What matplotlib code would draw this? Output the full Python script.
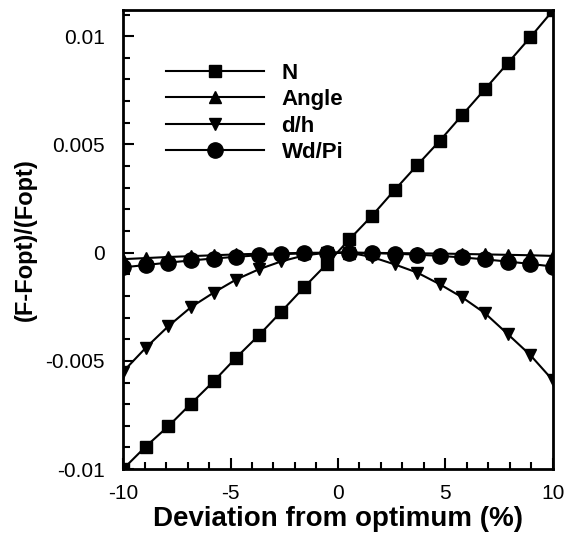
import matplotlib
matplotlib.use("Agg")
import matplotlib.pyplot as plt
import numpy as np

plt.rcParams['font.family'] = ['Liberation Sans', 'DejaVu Sans']

# deviation from optimum (%), 20 evaluated points
dev = np.linspace(-10, 10, 20)

n_vals = [-0.0100, -0.00896, -0.00802, -0.00698, -0.00595, -0.00485, -0.00382,
          -0.00272, -0.00160, -0.00053, 0.00061, 0.00170, 0.00289, 0.00404,
          0.00517, 0.00637, 0.00756, 0.00875, 0.00995, 0.01119]
angle_vals = [-0.00030, -0.00025, -0.00020, -0.00016, -0.00012, -0.00008, -0.00005,
              -0.00003, -0.00001, 0.0, 0.0, -0.00001, -0.00002, -0.00003,
              -0.00004, -0.00006, -0.00008, -0.00010, -0.00012, -0.00015]
dh_vals = [-0.00550, -0.00440, -0.00340, -0.00252, -0.00185, -0.00124, -0.00077,
           -0.00040, -0.00013, 0.0, 0.0, -0.00020, -0.00054, -0.00092,
           -0.00146, -0.00207, -0.00280, -0.00376, -0.00473, -0.00590]
wdpi_vals = [-0.00068, -0.00057, -0.00046, -0.00036, -0.00027, -0.00019, -0.00012,
             -0.00007, -0.00003, -0.00001, 0.0, -0.00002, -0.00005, -0.00009,
             -0.00015, -0.00022, -0.00031, -0.00041, -0.00052, -0.00064]

fig = plt.figure(figsize=(5.73, 5.38), dpi=100)
ax = fig.add_axes([0.2147, 0.128, 0.7503, 0.853])

lw = 1.5
ax.plot(dev, n_vals, color='black', lw=lw, marker='s', ms=8, label='N')
ax.plot(dev, angle_vals, color='black', lw=lw, marker='^', ms=9, label='Angle')
ax.plot(dev, dh_vals, color='black', lw=lw, marker='v', ms=9, label='d/h')
ax.plot(dev, wdpi_vals, color='black', lw=lw, marker='o', ms=11, label='Wd/Pi')

ax.set_xlim(-10, 10)
ax.set_ylim(-0.01, 0.0112)
ax.set_xticks([-10, -5, 0, 5, 10])
ax.set_xticklabels(['-10', '-5', '0', '5', '10'])
ax.set_xticks(np.arange(-10, 11, 1), minor=True)
ax.set_yticks([-0.01, -0.005, 0, 0.005, 0.01])
ax.set_yticklabels(['-0.01', '-0.005', '0', '0.005', '0.01'])
ax.set_yticks(np.arange(-0.01, 0.0111, 0.001), minor=True)

ax.tick_params(which='both', direction='in', top=False, right=False,
               labelsize=15, width=1.5)
ax.tick_params(which='major', length=8)
ax.tick_params(which='minor', length=5)
ax.tick_params(axis='x', pad=11)
ax.tick_params(axis='y', pad=13)
for sp in ax.spines.values():
    sp.set_linewidth(2)

ax.set_xlabel('Deviation from optimum (%)', fontsize=20, fontweight='bold', labelpad=2)
ax.set_ylabel('(F-Fopt)/(Fopt)', fontsize=17, fontweight='bold', labelpad=6)

ax.legend(loc='upper left', bbox_to_anchor=(0.1, 0.886), frameon=False,
          prop={'size': 16, 'weight': 'bold'}, handlelength=4.4,
          handletextpad=0.8, labelspacing=0.25, borderpad=0, borderaxespad=0)

fig.savefig('out.png', dpi=100)
